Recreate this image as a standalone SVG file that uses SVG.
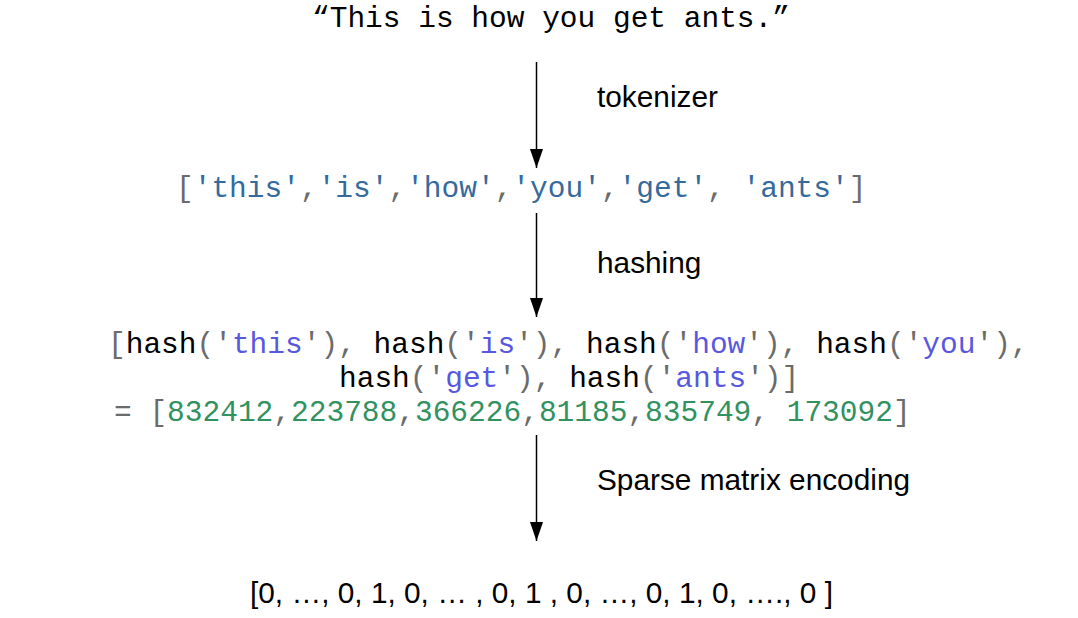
<svg xmlns="http://www.w3.org/2000/svg" width="1078" height="618" viewBox="0 0 1078 618">
  <style>
    .mono { font-family: "Liberation Mono", "DejaVu Sans Mono", monospace; font-size: 29.5px; }
    .sans { font-family: "Liberation Sans", Arial, sans-serif; font-size: 29.8px; fill: #000; }
    .punct { fill: #6b6b6b; }
    .tok { fill: #356a9c; }
    .fn { fill: #000; }
    .str { fill: #5858df; }
    .num { fill: #31915f; }
    .edge { stroke: #000; stroke-width: 1.5; fill: none; }
  </style>
  <defs>
    <marker id="arrowhead" markerUnits="userSpaceOnUse" markerWidth="19" markerHeight="13" refX="19" refY="6.5" viewBox="0 0 19 13" orient="auto">
      <path d="M0,0 L19,6.5 L0,13 Z" fill="#000"/>
    </marker>
  </defs>
  <rect width="1078" height="618" fill="#fff"/>

  <g id="sentence">
    <text class="mono" x="312" y="27" fill="#000">“This is how you get ants.”</text>
  </g>

  <g id="tokens">
    <text class="mono" x="176" y="197" xml:space="preserve"><tspan class="punct">[</tspan><tspan class="tok">'this'</tspan><tspan class="punct">,</tspan><tspan class="tok">'is'</tspan><tspan class="punct">,</tspan><tspan class="tok">'how'</tspan><tspan class="punct">,</tspan><tspan class="tok">'you'</tspan><tspan class="punct">,</tspan><tspan class="tok">'get'</tspan><tspan class="punct">, </tspan><tspan class="tok">'ants'</tspan><tspan class="punct">]</tspan></text>
  </g>

  <g id="hashes">
    <text class="mono" x="108" y="353" xml:space="preserve"><tspan class="punct">[</tspan><tspan class="fn">hash</tspan><tspan class="punct">('</tspan><tspan class="str">this</tspan><tspan class="punct">'), </tspan><tspan class="fn">hash</tspan><tspan class="punct">('</tspan><tspan class="str">is</tspan><tspan class="punct">'), </tspan><tspan class="fn">hash</tspan><tspan class="punct">('</tspan><tspan class="str">how</tspan><tspan class="punct">'), </tspan><tspan class="fn">hash</tspan><tspan class="punct">('</tspan><tspan class="str">you</tspan><tspan class="punct">'),</tspan></text>
    <text class="mono" x="339" y="387" xml:space="preserve"><tspan class="fn">hash</tspan><tspan class="punct">('</tspan><tspan class="str">get</tspan><tspan class="punct">'), </tspan><tspan class="fn">hash</tspan><tspan class="punct">('</tspan><tspan class="str">ants</tspan><tspan class="punct">')]</tspan></text>
    <text class="mono" x="114" y="421" xml:space="preserve"><tspan class="punct">= [</tspan><tspan class="num">832412</tspan><tspan class="punct">,</tspan><tspan class="num">223788</tspan><tspan class="punct">,</tspan><tspan class="num">366226</tspan><tspan class="punct">,</tspan><tspan class="num">81185</tspan><tspan class="punct">,</tspan><tspan class="num">835749</tspan><tspan class="punct">, </tspan><tspan class="num">173092</tspan><tspan class="punct">]</tspan></text>
  </g>

  <g id="vector">
    <text class="sans" x="250" y="603" xml:space="preserve">[0, …, 0, 1, 0, … , 0, 1 , 0, …, 0, 1, 0, …., 0 ]</text>
  </g>

  <g id="connectors">
    <line class="edge" x1="536.5" y1="62" x2="536.5" y2="168" marker-end="url(#arrowhead)"/>
    <line class="edge" x1="536.5" y1="213" x2="536.5" y2="317" marker-end="url(#arrowhead)"/>
    <line class="edge" x1="536.5" y1="435" x2="536.5" y2="541" marker-end="url(#arrowhead)"/>
    <text class="sans" x="597" y="107">tokenizer</text>
    <text class="sans" x="597" y="273">hashing</text>
    <text class="sans" x="597" y="490">Sparse matrix encoding</text>
  </g>
</svg>
